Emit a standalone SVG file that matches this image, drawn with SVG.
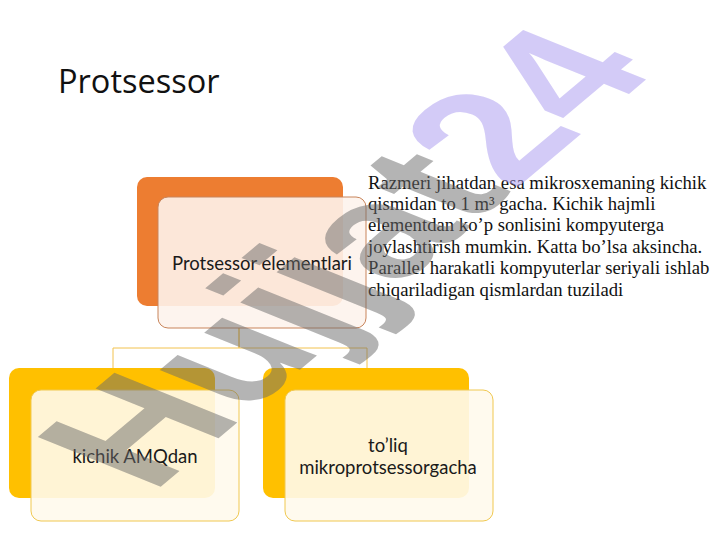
<svg xmlns="http://www.w3.org/2000/svg" width="720" height="540" viewBox="0 0 720 540">
<style>
.back{stroke:none}
.front{stroke-width:1}
.lbl{font-family:Lato,"Open Sans",sans-serif;font-size:18.5px;fill:#1a1a1a;text-anchor:middle}
.body{font-family:"Liberation Serif",serif;font-size:18.7px;fill:#111}
.conn{fill:none;stroke:#F2C24E;stroke-width:1}
</style>
<rect width="720" height="540" fill="#ffffff"/>
<text x="58" y="93" font-family="'Open Sans',sans-serif" font-size="32.5" fill="#111">Protsessor</text>
<g id="connectors">
<path class="conn" d="M239 328 V348 H113 V368"/>
<path class="conn" d="M239 328 V348 H367 V368"/>
</g>
<g id="node-top">
<rect class="back" x="137" y="177" width="206" height="129" rx="10" fill="#ED7D31"/>
<rect class="front" x="158" y="197" width="208" height="131" rx="10" fill="#FDF3EC" fill-opacity="0.9" stroke="#C8845A"/>
<text class="lbl" x="262" y="270">Protsessor elementlari</text>
</g>
<g id="node-left">
<rect class="back" x="9" y="368" width="206" height="130" rx="10" fill="#FFC000"/>
<rect class="front" x="31" y="390" width="208" height="131" rx="10" fill="#FFF9EC" fill-opacity="0.9" stroke="#F0C850"/>
<text class="lbl" x="135" y="463">kichik AMQdan</text>
</g>
<g id="node-right">
<rect class="back" x="263" y="368" width="206" height="130" rx="10" fill="#FFC000"/>
<rect class="front" x="285" y="390" width="208" height="131" rx="10" fill="#FFF9EC" fill-opacity="0.9" stroke="#F0C850"/>
<text class="lbl" x="388" y="452">to’liq</text>
<text class="lbl" x="388" y="474">mikroprotsessorgacha</text>
</g>
<g id="note">
<text class="body" x="368" y="188.5">Razmeri jihatdan esa mikrosxemaning kichik</text>
<text class="body" x="368" y="209.9">qismidan to 1 m³ gacha. Kichik hajmli</text>
<text class="body" x="368" y="231.3">elementdan ko’p sonlisini kompyuterga</text>
<text class="body" x="368" y="252.7">joylashtirish mumkin. Katta bo’lsa aksincha.</text>
<text class="body" x="368" y="274.1">Parallel harakatli kompyuterlar seriyali ishlab</text>
<text class="body" x="368" y="295.5">chiqariladigan qismlardan tuziladi</text>
</g>
<g id="watermark" font-family="'Liberation Sans',sans-serif" font-weight="bold" font-size="170" transform="translate(152,494) rotate(-40) skewX(28)">
<text x="0" y="0"><tspan fill="#6a6a6a" fill-opacity="0.5">Hujjat</tspan><tspan fill="#A898F0" fill-opacity="0.5">24</tspan></text>
</g>
</svg>
